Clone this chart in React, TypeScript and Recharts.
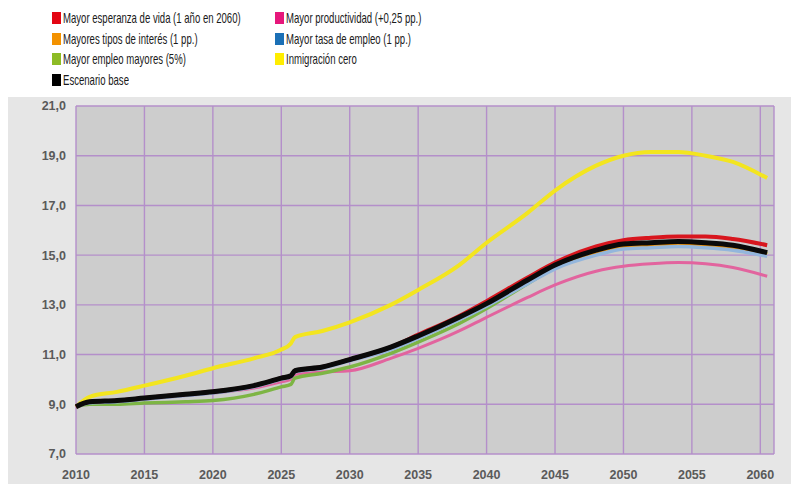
import React from "react";
import { LineChart, Line, XAxis, YAxis, CartesianGrid } from "recharts";

// years (two close points around the 2026 step)
const years = [
  2010, 2011, 2013, 2015, 2018, 2020, 2023, 2025, 2025.7, 2026, 2028, 2030, 2033, 2035,
  2038, 2040, 2043, 2045, 2048, 2050, 2052, 2054, 2056, 2058, 2060.5,
];

const inmigracionCero = [
  8.9, 9.3, 9.5, 9.75, 10.15, 10.45, 10.85, 11.2, 11.45, 11.7, 11.95, 12.3, 13.0, 13.6,
  14.6, 15.5, 16.7, 17.6, 18.6, 19.0, 19.15, 19.15, 19.0, 18.75, 18.1,
];
const escenarioBase = [
  8.9, 9.1, 9.15, 9.25, 9.4, 9.5, 9.75, 10.05, 10.15, 10.35, 10.5, 10.8, 11.3, 11.75,
  12.5, 13.05, 14.0, 14.6, 15.2, 15.45, 15.5, 15.55, 15.5, 15.4, 15.1,
];
const esperanzaVida = [
  8.9, 9.1, 9.15, 9.25, 9.4, 9.5, 9.75, 10.05, 10.15, 10.35, 10.5, 10.8, 11.3, 11.8,
  12.55, 13.15, 14.1, 14.7, 15.35, 15.6, 15.7, 15.75, 15.75, 15.65, 15.4,
];
const tasaEmpleo = [
  8.9, 9.05, 9.1, 9.2, 9.35, 9.45, 9.7, 10.0, 10.1, 10.3, 10.45, 10.75, 11.2, 11.65,
  12.4, 12.95, 13.85, 14.45, 15.0, 15.25, 15.3, 15.35, 15.3, 15.2, 14.95,
];
const tiposInteres = [
  8.9, 9.08, 9.12, 9.22, 9.37, 9.47, 9.72, 10.02, 10.12, 10.32, 10.47, 10.77, 11.25, 11.7,
  12.45, 13.0, 13.95, 14.55, 15.1, 15.35, 15.4, 15.45, 15.4, 15.3, 15.05,
];
const empleoMayores = [
  8.9, 9.0, 9.0, 9.05, 9.1, 9.15, 9.4, 9.7, 9.8, 10.05, 10.25, 10.5, 11.05, 11.5,
  12.25, 12.85, 13.85, 14.5, 15.1, 15.4, 15.5, 15.5, 15.45, 15.35, 15.05,
];
const productividad = [
  8.9, 9.05, 9.1, 9.2, 9.35, 9.45, 9.65, 9.9, 10.0, 10.2, 10.3, 10.35, 10.85, 11.25,
  11.95, 12.5, 13.3, 13.8, 14.35, 14.55, 14.65, 14.7, 14.65, 14.5, 14.15,
];

const xTicks = [2010, 2015, 2020, 2025, 2030, 2035, 2040, 2045, 2050, 2055, 2060];
const yTicks = [7, 9, 11, 13, 15, 17, 19, 21];

const data = years.map((year, i) => ({
  year,
  yellow: inmigracionCero[i],
  pink: productividad[i],
  green: empleoMayores[i],
  orange: tiposInteres[i],
  blue: tasaEmpleo[i],
  red: esperanzaVida[i],
  black: escenarioBase[i],
}));

// drawing order: bottom first
const lines = [
  { key: "yellow", color: "#f3e51f", width: 4 },
  { key: "pink", color: "#e2649e", width: 3 },
  { key: "green", color: "#7db544", width: 3.5 },
  { key: "orange", color: "#f39200", width: 3 },
  { key: "blue", color: "#93b6dc", width: 3.5 },
  { key: "red", color: "#d8161e", width: 4 },
  { key: "black", color: "#0a0a0a", width: 5 },
];

const legendLeft = [
  { name: "Mayor esperanza de vida (1 año en 2060)", color: "#e30613" },
  { name: "Mayores tipos de interés (1 pp.)", color: "#f39200" },
  { name: "Mayor empleo mayores (5%)", color: "#8dbb25" },
  { name: "Escenario base", color: "#000000" },
];
const legendRight = [
  { name: "Mayor productividad (+0,25 pp.)", color: "#e6177b" },
  { name: "Mayor tasa de empleo (1 pp.)", color: "#1b70b6" },
  { name: "Inmigración cero", color: "#ffed00" },
];

// the original uses a condensed face, so squeeze a regular one
function LegendColumn({ items, left }: { items: { name: string; color: string }[]; left: number }) {
  return (
    <div style={{ position: "absolute", left, top: 8 }}>
      {items.map((it) => (
        <div key={it.name} style={{ display: "flex", alignItems: "center", height: 20.5 }}>
          <span style={{ width: 9, height: 12, background: it.color, marginRight: 2, flex: "none" }} />
          <span
            style={{
              display: "inline-block",
              fontFamily: "'Liberation Sans', Arial, sans-serif",
              fontSize: 14.5,
              color: "#1a1a1a",
              whiteSpace: "nowrap",
              transform: "scaleX(0.66)",
              transformOrigin: "left center",
            }}
          >
            {it.name}
          </span>
        </div>
      ))}
    </div>
  );
}

const tickStyle = {
  fontSize: 12.5,
  fill: "#5a5a5a",
  fontWeight: "bold" as const,
  fontFamily: "'Liberation Sans', Arial, sans-serif",
};

export default function App() {
  return (
    <div style={{ position: "absolute", left: 0, top: 0, width: 791, height: 484, background: "#fff", overflow: "hidden" }}>
      <LegendColumn items={legendLeft} left={52} />
      <LegendColumn items={legendRight} left={275} />
      <div style={{ position: "absolute", left: 8, top: 97, width: 783, height: 387, background: "#e6e6e6" }}>
        <LineChart
          width={783}
          height={387}
          data={data}
          margin={{ top: 9, right: 17, left: 0, bottom: 0 }}
        >
          <CartesianGrid stroke="#b48fca" strokeWidth={1.4} fill="#cdcdcd" />
          <XAxis
            dataKey="year"
            type="number"
            domain={[2010, 2061]}
            ticks={xTicks}
            height={30}
            axisLine={false}
            tickLine={false}
            tickSize={8}
            tickMargin={8}
            tick={tickStyle}
          />
          <YAxis
            type="number"
            domain={[7, 21]}
            ticks={yTicks}
            width={68}
            axisLine={false}
            tickLine={false}
            tickSize={8}
            tickMargin={2}
            tick={tickStyle}
            tickFormatter={(v: number) => v.toFixed(1).replace(".", ",")}
          />
          {lines.map((l) => (
            <Line
              key={l.key}
              dataKey={l.key}
              type="monotone"
              stroke={l.color}
              strokeWidth={l.width}
              dot={false}
              isAnimationActive={false}
            />
          ))}
        </LineChart>
      </div>
    </div>
  );
}
